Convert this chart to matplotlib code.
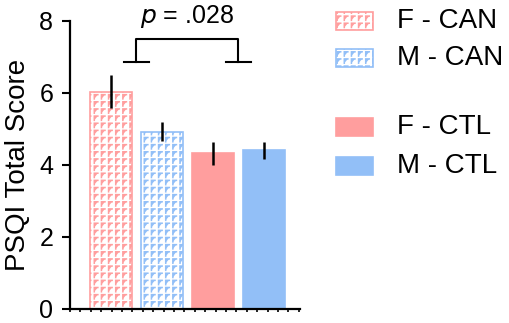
import numpy as np
import matplotlib
matplotlib.use('Agg')
import matplotlib.pyplot as plt
from matplotlib import hatch as mhatch
from matplotlib.path import Path
from matplotlib.patches import Rectangle

# Datos
grupos = ['F - CAN', 'M - CAN', 'F - CTL', 'M - CTL']
medias = [6.04, 4.93, 4.32, 4.41]
errores = [0.47, 0.26, 0.31, 0.24]
colores = ['#ff9e9e', '#92bff7', '#ff9e9e', '#92bff7']
rayado = [True, True, False, False]
p_texto = '.028'


# Patron de rayado tipo "Γ" (reemplaza al '+')
class GammaHatch(mhatch.HatchPatternBase):
    def __init__(self, hatch, density):
        self.n = int(hatch.count('+') * 14)
        self.num_vertices = self.n * self.n * 3

    def set_vertices_and_codes(self, vertices, codes):
        c = 1.0 / self.n
        k = 0
        for i in range(self.n):
            for j in range(self.n):
                x0, y0 = i * c + 0.2 * c, j * c + 0.15 * c
                vertices[k] = (x0, y0)
                vertices[k + 1] = (x0, y0 + 0.6 * c)
                vertices[k + 2] = (x0 + 0.5 * c, y0 + 0.6 * c)
                codes[k] = Path.MOVETO
                codes[k + 1] = Path.LINETO
                codes[k + 2] = Path.LINETO
                k += 3


mhatch._hatch_types = [GammaHatch]

plt.rcParams['font.family'] = ['Liberation Sans', 'DejaVu Sans']
plt.rcParams['hatch.linewidth'] = 1.1

fig = plt.figure(figsize=(5.10, 3.23), dpi=100)
ax = fig.add_axes([70 / 510, 14 / 323, 230 / 510, 288 / 323])

x = np.arange(len(medias))
for i in range(len(medias)):
    ax.bar(x[i], medias[i], width=0.82, color=colores[i], edgecolor=colores[i],
           linewidth=1.2, hatch='+' if rayado[i] else None,
           fill=not rayado[i], zorder=2)
    ax.plot([x[i], x[i]], [medias[i] - errores[i], medias[i] + errores[i]],
            color='black', lw=1.8, zorder=3, solid_capstyle='butt')

ax.set_xlim(-0.8, 3.71)
ax.set_ylim(0, 8)
ax.set_yticks([0, 2, 4, 6, 8])
ax.set_xticks([])
ax.set_xticks(np.arange(-0.8, 3.72, 0.204), minor=True)
ax.tick_params(axis='y', labelsize=18, width=1.5, length=6, pad=6)
ax.tick_params(axis='x', which='minor', width=1.2, length=2.5, labelbottom=False)
ax.set_ylabel('PSQI Total Score', fontsize=20, labelpad=6)
for s in ['top', 'right']:
    ax.spines[s].set_visible(False)
for s in ['left', 'bottom']:
    ax.spines[s].set_linewidth(1.6)

# Corchete de significancia
lw = 1.5
ax.plot([0.5, 0.5, 2.5, 2.5], [6.86, 7.5, 7.5, 6.86], color='black', lw=lw, clip_on=False)
ax.plot([0.25, 0.75], [6.86, 6.86], color='black', lw=lw, clip_on=False)
ax.plot([2.25, 2.75], [6.86, 6.86], color='black', lw=lw, clip_on=False)
ax.text(1.5, 7.95, r'$\it{p}$ = ' + p_texto, ha='center', va='baseline', fontsize=18)

# Leyenda manual en pixeles
lax = fig.add_axes([0, 0, 1, 1])
lax.set_xlim(0, 510)
lax.set_ylim(323, 0)
lax.axis('off')
centros_y = [21, 58, 127, 166]
for i in range(len(grupos)):
    r = Rectangle((336, centros_y[i] - 9), 37, 18, facecolor=colores[i] if not rayado[i] else 'none',
                  edgecolor=colores[i], linewidth=1.2, hatch='+' if rayado[i] else None)
    lax.add_patch(r)
    lax.text(397, centros_y[i], grupos[i], fontsize=20, va='center', ha='left')

plt.savefig('out.png', dpi=100)
plt.close()
